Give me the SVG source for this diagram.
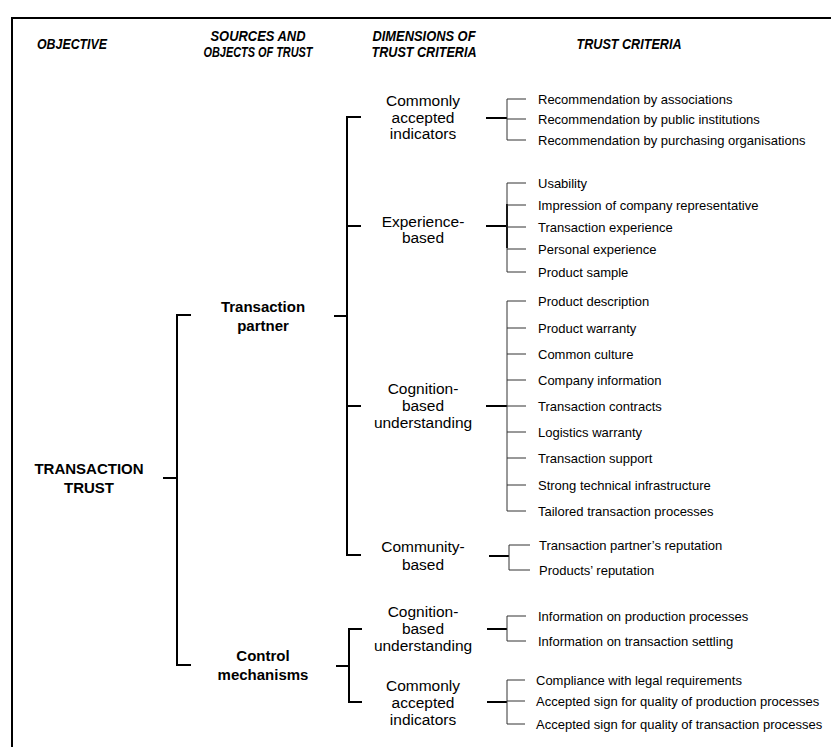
<svg xmlns="http://www.w3.org/2000/svg" width="831" height="747" viewBox="0 0 831 747">
<style>
.hd{font-family:"Liberation Sans",Arial,sans-serif;font-weight:bold;font-style:italic;font-size:15px;text-anchor:middle;fill:#000}
.l1{font-family:"Liberation Sans",Arial,sans-serif;font-weight:bold;font-size:15px;text-anchor:middle;fill:#000}
.l3{font-family:"Liberation Sans",Arial,sans-serif;font-size:15.5px;text-anchor:middle;fill:#000}
.it{font-family:"Liberation Sans",Arial,sans-serif;font-size:13px;fill:#000}
.k{stroke:#000;stroke-width:2;fill:none}
.g{stroke:#333;stroke-width:1;fill:none}
</style>
<rect width="831" height="747" fill="#fff"/>
<g id="frame"><path class="k" d="M12,747 V18 H831"/></g>
<g id="headers">
<text class="hd" x="72" y="49" textLength="70" lengthAdjust="spacingAndGlyphs">OBJECTIVE</text>
<text class="hd" x="258" y="41" textLength="95" lengthAdjust="spacingAndGlyphs">SOURCES AND</text>
<text class="hd" x="258" y="57" textLength="109" lengthAdjust="spacingAndGlyphs">OBJECTS OF TRUST</text>
<text class="hd" x="424" y="41" textLength="103" lengthAdjust="spacingAndGlyphs">DIMENSIONS OF</text>
<text class="hd" x="424" y="57" textLength="105" lengthAdjust="spacingAndGlyphs">TRUST CRITERIA</text>
<text class="hd" x="629" y="49" textLength="105" lengthAdjust="spacingAndGlyphs">TRUST CRITERIA</text>
</g>
<g id="n-transaction-trust"><text class="l1" x="89" y="474">TRANSACTION</text><text class="l1" x="89" y="493">TRUST</text></g>
<g id="n-transaction-partner"><text class="l1" x="263" y="312">Transaction</text><text class="l1" x="263" y="331">partner</text></g>
<g id="n-control"><text class="l1" x="263" y="661">Control</text><text class="l1" x="263" y="680">mechanisms</text></g>
<g id="n-tp-common"><text class="l3" x="423" y="106">Commonly</text><text class="l3" x="423" y="123">accepted</text><text class="l3" x="423" y="139">indicators</text></g>
<g id="n-tp-experience"><text class="l3" x="423" y="227">Experience-</text><text class="l3" x="423" y="243">based</text></g>
<g id="n-tp-cognition"><text class="l3" x="423" y="394">Cognition-</text><text class="l3" x="423" y="411">based</text><text class="l3" x="423" y="428">understanding</text></g>
<g id="n-tp-community"><text class="l3" x="423" y="552">Community-</text><text class="l3" x="423" y="570">based</text></g>
<g id="n-cm-cognition"><text class="l3" x="423" y="617">Cognition-</text><text class="l3" x="423" y="634">based</text><text class="l3" x="423" y="651">understanding</text></g>
<g id="n-cm-common"><text class="l3" x="423" y="691">Commonly</text><text class="l3" x="423" y="708">accepted</text><text class="l3" x="423" y="725">indicators</text></g>
<g id="items">
<text class="it" x="538" y="104">Recommendation by associations</text>
<text class="it" x="538" y="124">Recommendation by public institutions</text>
<text class="it" x="538" y="145">Recommendation by purchasing organisations</text>
<text class="it" x="538" y="188">Usability</text>
<text class="it" x="538" y="210">Impression of company representative</text>
<text class="it" x="538" y="232">Transaction experience</text>
<text class="it" x="538" y="254">Personal experience</text>
<text class="it" x="538" y="277">Product sample</text>
<text class="it" x="538" y="306">Product description</text>
<text class="it" x="538" y="333">Product warranty</text>
<text class="it" x="538" y="359">Common culture</text>
<text class="it" x="538" y="385">Company information</text>
<text class="it" x="538" y="411">Transaction contracts</text>
<text class="it" x="538" y="437">Logistics warranty</text>
<text class="it" x="538" y="463">Transaction support</text>
<text class="it" x="538" y="490">Strong technical infrastructure</text>
<text class="it" x="538" y="516">Tailored transaction processes</text>
<text class="it" x="539" y="550">Transaction partner’s reputation</text>
<text class="it" x="539" y="575">Products’ reputation</text>
<text class="it" x="538" y="621">Information on production processes</text>
<text class="it" x="538" y="646">Information on transaction settling</text>
<text class="it" x="536" y="685">Compliance with legal requirements</text>
<text class="it" x="536" y="706">Accepted sign for quality of production processes</text>
<text class="it" x="536" y="729">Accepted sign for quality of transaction processes</text>
</g>
<g id="connectors">
<path class="k" d="M163,478 H177 M191,315 H177 V665 H191"/>
<path class="k" d="M334,316 H347 M361,117 H347 V555 H361 M347,226 H361 M347,406 H361"/>
<path class="k" d="M336,666 H349 M362,629 H349 V702 H362"/>
<path class="k" d="M486,118 H507 M486,226 H507 M486,406 H507 M489,556 H509 M487,629 H507 M487,702 H507"/>
<path class="k" d="M507,204 V248"/>
<path class="g" d="M526,99 H507 V140 H526 M507,119 H526"/>
<path class="g" d="M526,183 H507 V272 H526 M507,205 H526 M507,227 H526 M507,249 H526"/>
<path class="g" d="M526,301 H507 V511 H526 M507,328 H526 M507,354 H526 M507,380 H526 M507,406 H526 M507,432 H526 M507,458 H526 M507,485 H526"/>
<path class="g" d="M530,545 H509 V570 H530"/>
<path class="g" d="M526,616 H507 V641 H526"/>
<path class="g" d="M525,680 H507 V724 H525 M507,701 H525"/>
</g>
</svg>
